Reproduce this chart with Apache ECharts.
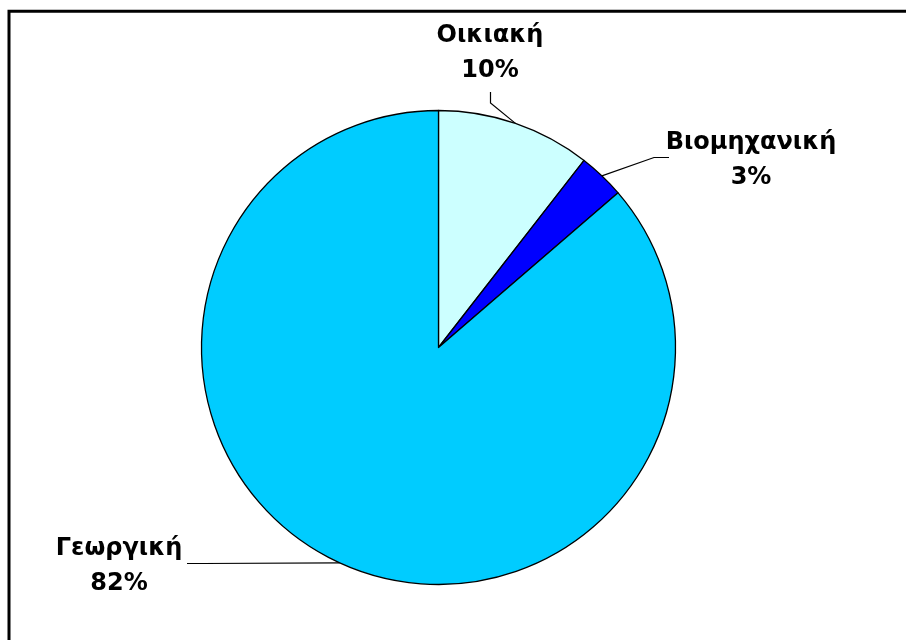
<!DOCTYPE html>
<html>
<head>
<meta charset="utf-8">
<script src="https://cdn.jsdelivr.net/npm/echarts@6/dist/echarts.min.js"></script>
<style>
  html, body { margin: 0; padding: 0; background: #fff; }
  #chart { width: 906px; height: 640px; }
</style>
</head>
<body>
<div id="chart"></div>
<script>
// Water use by sector (percent of total)
const categories = ['Οικιακή', 'Βιομηχανική', 'Γεωργική'];
const shares = [10, 3, 82];
const sliceColors = ['#CCFFFF', '#0000FF', '#00CCFF'];

// Where each callout sits: text block centre, then the leader line's bend and end
const callouts = [
  { cx: 490, cy: 53, bend: [490.5, 103], end: [490.5, 92] },
  { cx: 751, cy: 160, bend: [654, 157.5], end: [669, 157.5] },
  { cx: 119, cy: 566, bend: [203, 563.5], end: [187, 563.5] }
];

const chart = echarts.init(document.getElementById('chart'), null, { renderer: 'canvas' });

chart.setOption({
  backgroundColor: '#ffffff',
  animation: false,
  graphic: [{
    // frame: only its left and top edges fall inside the page
    type: 'polyline',
    shape: { points: [[9, 700], [9, 11.3], [960, 11.3]] },
    style: { fill: null, stroke: '#000', lineWidth: 3 },
    silent: true
  }],
  series: [{
    type: 'pie',
    center: [438.5, 347.5],
    radius: 237,
    startAngle: 90,
    clockwise: true,
    avoidLabelOverlap: false,
    data: categories.map((name, i) => ({
      name,
      value: shares[i],
      itemStyle: { color: sliceColors[i] }
    })),
    itemStyle: { borderColor: '#000', borderWidth: 1.3 },
    label: {
      show: true,
      position: 'outside',
      formatter: '{b}\n{c}%',
      fontFamily: 'DejaVu Sans',
      fontWeight: 'bold',
      fontSize: 24,
      lineHeight: 35,
      color: '#000',
      align: 'center'
    },
    labelLine: {
      show: true,
      length: 20,
      length2: 15,
      lineStyle: { color: '#000', width: 1.2 }
    },
    labelLayout: function (params) {
      const c = callouts[params.dataIndex];
      const start = params.labelLinePoints ? params.labelLinePoints[0] : c.bend;
      return {
        x: c.cx,
        y: c.cy,
        align: 'center',
        verticalAlign: 'middle',
        labelLinePoints: [start, c.bend, c.end]
      };
    },
    emphasis: { disabled: true }
  }]
});
</script>
</body>
</html>
